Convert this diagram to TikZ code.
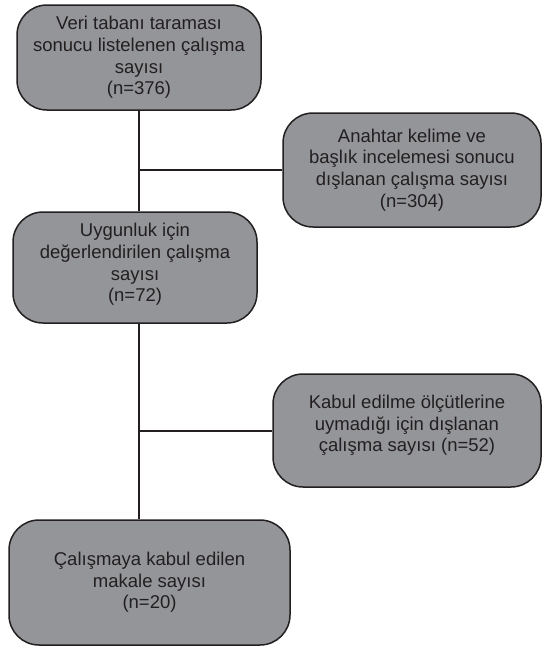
\documentclass[tikz,border=0pt]{standalone}
\usepackage{fontspec}
\setmainfont{Liberation Sans}
\usepackage{tikz}
\usetikzlibrary{shapes}
\definecolor{boxgray}{HTML}{939598}
\definecolor{inkdark}{HTML}{231F20}

\begin{document}
\begin{tikzpicture}[x=1pt,y=-1pt]
\useasboundingbox (0,0) rectangle (542,646);

\tikzstyle{flowbox} = [draw=inkdark,fill=boxgray,line width=1.5pt,
        rounded corners=30pt,align=center,text=inkdark,inner sep=0pt,
        font=\fontsize{18.5}{21.7}\selectfont]
\tikzstyle{link} = [draw=inkdark,line width=2pt]

\begin{scope}
\path (139,57.5) node[flowbox,minimum width=244pt,minimum height=105pt] (veri)
        {Veri tabanı taraması\\sonucu listelenen çalışma\\sayısı\\(n=376)};
\path (412,170) node[flowbox,minimum width=258pt,minimum height=114pt] (anahtar)
        {Anahtar kelime ve\\başlık incelemesi sonucu\\dışlanan çalışma sayısı\\(n=304)};
\path (135,267.5) node[flowbox,minimum width=244pt,minimum height=111pt] (uygun)
        {Uygunluk için\\değerlendirilen çalışma\\sayısı\\(n=72)\\[-11.7pt]\mbox{}};
\path (407,430.5) node[flowbox,minimum width=268pt,minimum height=113pt] (kabul)
        {Kabul edilme ölçütlerine\\uymadığı için dışlanan\\çalışma sayısı (n=52)\\[-7.7pt]\mbox{}};
\path (149.5,582.5) node[flowbox,minimum width=281pt,minimum height=125pt] (makale)
        {Çalışmaya kabul edilen\\makale sayısı\\(n=20)};
\end{scope}

%\draw[help lines] (0,0) grid (542,646);
\draw[link] (veri.south) -- (veri.south |- uygun.north);
\draw[link] (veri.south |- anahtar.west) -- (anahtar.west);
\draw[link] (uygun.south -| veri.south) -- (makale.north -| veri.south);
\draw[link] (kabul.west -| veri.south) -- (kabul.west);

\end{tikzpicture}
\end{document}
